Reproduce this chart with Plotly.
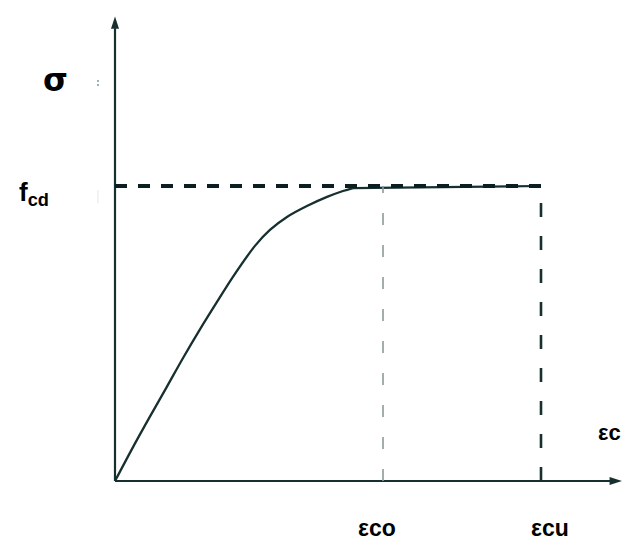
import plotly.graph_objects as go

# Strain (arbitrary units, eps_cu = 3.5) and normalized stress (fcd = 1)
curve_strain = [0.0, 0.148, 0.288, 0.427, 0.559, 0.698, 0.838, 0.969, 1.150, 1.273,
                1.413, 1.577, 1.742, 1.873, 1.955]
curve_stress = [0.0, 0.115, 0.219, 0.320, 0.417, 0.514, 0.607, 0.692, 0.797, 0.851,
                0.895, 0.932, 0.963, 0.983, 0.993]
eps_co = 2.202
eps_cu = 3.5
fcd = 1.0
x_axis_end = 4.165
y_axis_end = 1.575

dark = "#17302f"

fig = go.Figure()

# Axes lines
fig.add_trace(go.Scatter(x=[0, x_axis_end - 0.05], y=[0, 0], mode="lines",
                         line=dict(color=dark, width=2.2), hoverinfo="skip"))
fig.add_trace(go.Scatter(x=[0, 0], y=[0, y_axis_end - 0.04], mode="lines",
                         line=dict(color=dark, width=2.2), hoverinfo="skip"))
# Arrowheads
fig.add_trace(go.Scatter(x=[x_axis_end], y=[0], mode="markers",
                         marker=dict(symbol="arrow", angle=90, size=13, color=dark), hoverinfo="skip"))
fig.add_trace(go.Scatter(x=[0], y=[y_axis_end], mode="markers",
                         marker=dict(symbol="arrow", angle=0, size=13, color=dark), hoverinfo="skip"))

# Faint leftover tick marks left of the stress axis
fig.add_trace(go.Scatter(x=[-0.14, -0.14], y=[1.359, 1.332], mode="lines",
                         line=dict(color="#7d97a3", width=1.5, dash="2px,2px"), hoverinfo="skip"))
fig.add_trace(go.Scatter(x=[-0.14, -0.14], y=[0.986, 0.942], mode="lines",
                         line=dict(color="#e4e8e8", width=1), hoverinfo="skip"))

# Curve (parabola + plateau)
fig.add_trace(go.Scatter(x=curve_strain, y=curve_stress, mode="lines",
                         line=dict(color=dark, width=2.3, shape="spline", smoothing=0.9), hoverinfo="skip"))
fig.add_trace(go.Scatter(x=[curve_strain[-1], eps_cu], y=[curve_stress[-1], fcd], mode="lines",
                         line=dict(color=dark, width=2.2), hoverinfo="skip"))
# fcd dashed horizontal
fig.add_trace(go.Scatter(x=[0, eps_cu], y=[fcd, fcd], mode="lines",
                         line=dict(color="#0c1f20", width=4, dash="12px,11px"), hoverinfo="skip"))
# eps_co vertical (thin gray)
fig.add_trace(go.Scatter(x=[eps_co, eps_co], y=[0, fcd], mode="lines",
                         line=dict(color="#8d9a9a", width=1.6, dash="12px,20px"), hoverinfo="skip"))
# eps_cu vertical (dark)
fig.add_trace(go.Scatter(x=[eps_cu, eps_cu], y=[0, fcd], mode="lines",
                         line=dict(color=dark, width=2.6, dash="14px,19px"), hoverinfo="skip"))

ann = []
font_bold = dict(family="Liberation Sans, Arial", size=23, color="black")
ann.append(dict(x=-0.485, y=1.359, xref="x", yref="y", text="<b>σ</b>", showarrow=False,
                font=dict(family="DejaVu Sans", size=32, color="black")))
ann.append(dict(x=-0.665, y=0.975, xref="x", yref="y", text="<b>f<sub>cd</sub></b>", showarrow=False,
                font=dict(family="Liberation Sans, Arial", size=26, color="black")))
ann.append(dict(x=4.175, y=0.163, xref="x", yref="y", xanchor="right", text="<b>εc</b>",
                showarrow=False, font=dict(family="Liberation Sans, Arial", size=22, color="black")))
ann.append(dict(x=2.153, y=-0.159, xref="x", yref="y", text="<b>εco</b>", showarrow=False, font=font_bold))
ann.append(dict(x=3.574, y=-0.159, xref="x", yref="y", text="<b>εcu</b>", showarrow=False, font=font_bold))

fig.update_layout(
    width=624, height=540,
    margin=dict(l=0, r=0, t=0, b=0),
    paper_bgcolor="white", plot_bgcolor="white",
    showlegend=False,
    xaxis=dict(range=[-115 * 3.5 / 426, 509 * 3.5 / 426], visible=False, fixedrange=True),
    yaxis=dict(range=[-59 / 295, 481 / 295], visible=False, fixedrange=True),
    annotations=ann,
)

fig.write_html("out.html", config={"displayModeBar": False},
               post_script="document.body.style.margin='0';document.body.style.overflow='hidden';")
